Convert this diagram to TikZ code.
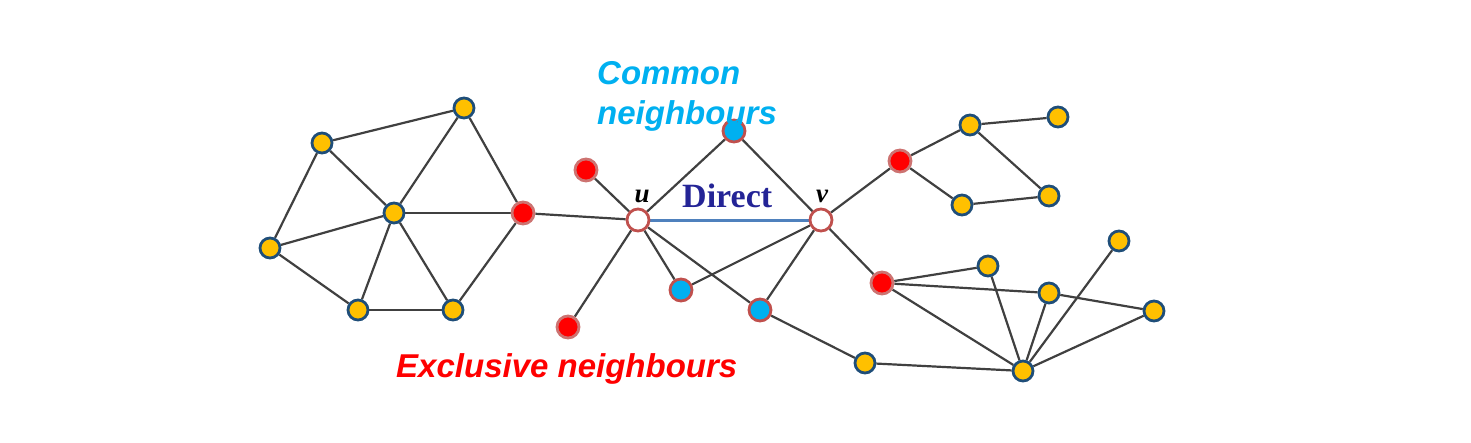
\documentclass[tikz,border=0pt]{standalone}
\usepackage{fontspec}
\setmainfont{Liberation Serif}
\newfontfamily\arialfont{Liberation Sans}
\usepackage{tikz}
\usetikzlibrary{backgrounds}
\definecolor{nodeyellow}{RGB}{255, 192, 0}
\definecolor{nodeborder}{RGB}{31, 78, 121}
\definecolor{commoncyan}{RGB}{0, 176, 240}
\definecolor{exclred}{RGB}{255, 0, 0}
\definecolor{ringred}{RGB}{192, 80, 77}
\definecolor{directnavy}{RGB}{36, 36, 150}
\definecolor{directline}{RGB}{79, 129, 189}
\definecolor{edgegray}{RGB}{64, 64, 64}

\begin{document}
\begin{tikzpicture}[
  x=1pt, y=-1pt,
  ynode/.style={circle, draw=nodeborder, line width=2.8pt, fill=nodeyellow,
                minimum size=20pt, inner sep=0pt},
  rnode/.style={circle, draw=ringred!80, line width=2.8pt, fill=exclred,
                minimum size=22pt, inner sep=0pt},
  cnode/.style={circle, draw=ringred, line width=2.8pt, fill=commoncyan,
                minimum size=22pt, inner sep=0pt},
  endnode/.style={circle, draw=ringred, line width=2.8pt, fill=white,
                  minimum size=22pt, inner sep=0pt},
  edge/.style={draw=edgegray, line width=2.2pt},
  direct/.style={draw=directline, line width=3pt},
  label/.style={font=\arialfont\bfseries\itshape\fontsize{33}{40}\selectfont}
]
\useasboundingbox (0,0) rectangle (1471,442);

% Left cluster
\node[ynode] (l1) at (464,108) {};
\node[ynode] (l2) at (322,143) {};
\node[ynode] (l3) at (394,213) {};
\node[ynode] (l4) at (270,248) {};
\node[ynode] (l5) at (358,310) {};
\node[ynode] (l6) at (453,310) {};
\node[rnode] (e1) at (523,213) {};

% The linked pair
\node[endnode] (u) at (638,220) {};
\node[endnode] (v) at (821,220) {};

% Exclusive and common neighbours
\node[rnode] (e2) at (586,170) {};
\node[rnode] (e3) at (568,327) {};
\node[rnode] (e4) at (900,161) {};
\node[rnode] (e5) at (882,283) {};
\node[cnode] (c1) at (734,131) {};
\node[cnode] (c2) at (681,290) {};
\node[cnode] (c3) at (760,310) {};

% Right cluster
\node[ynode] (r1) at (970,125) {};
\node[ynode] (r2) at (1058,117) {};
\node[ynode] (r3) at (962,205) {};
\node[ynode] (r4) at (1049,196) {};
\node[ynode] (r5) at (1119,241) {};
\node[ynode] (r6) at (988,266) {};
\node[ynode] (r7) at (1049,293) {};
\node[ynode] (r8) at (1154,311) {};
\node[ynode] (r9) at (865,363) {};
\node[ynode] (r10) at (1023,371) {};

% Edges
\begin{scope}[on background layer]
\foreach \a/\b in {l2/l1, l2/l4, l2/l3, l1/l3, l1/e1, l3/e1, l4/l3, l4/l5,
                   l5/l3, l5/l6, l6/l3, l6/e1, e1/u, e2/u, e3/u,
                   u/c1, c1/v, u/c2, c2/v, u/c3, c3/v, c3/r9,
                   v/e4, e4/r1, e4/r3, r1/r2, r1/r4, r3/r4,
                   v/e5, e5/r6, e5/r7, e5/r10, r7/r8, r6/r10, r7/r10,
                   r5/r10, r8/r10, r9/r10}
  \draw[edge] (\a) -- (\b);
\draw[direct] (u) -- (v);
\end{scope}

% Labels
\node[font=\bfseries\itshape\fontsize{27}{27}\selectfont, anchor=base]
  (ulabel) at (642,202) {u};
\node[font=\bfseries\itshape\fontsize{27}{27}\selectfont, anchor=base]
  (vlabel) at (822,202) {v};
\node[font=\bfseries\fontsize{34}{34}\selectfont, text=directnavy,
      anchor=base west, inner sep=0pt] (dirlabel) at (682,207) {Direct};
\node[label, text=commoncyan, align=left, anchor=north west, inner sep=0pt]
  (comlabel) at (597,61) {Common\\neighbours};
\node[label, text=exclred, anchor=base west, inner sep=0pt]
  (exlabel) at (396,377) {Exclusive neighbours};

\end{tikzpicture}
\end{document}
